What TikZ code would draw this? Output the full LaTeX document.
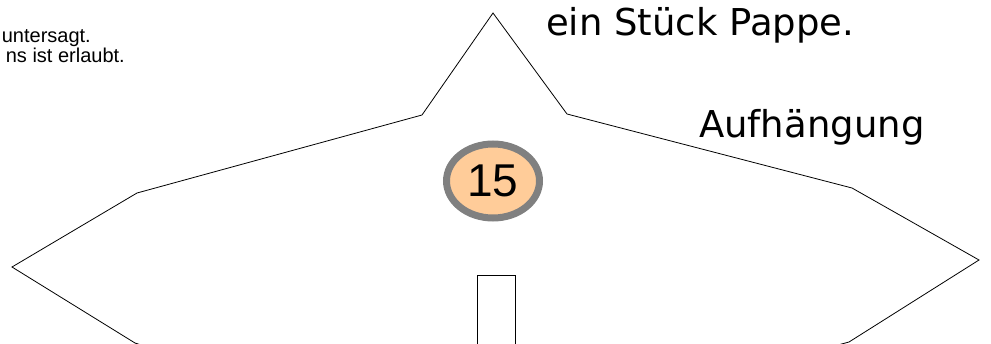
\documentclass[tikz,border=0pt]{standalone}
\usepackage{fontspec}
\setmainfont{Liberation Sans}
\newfontfamily\handfont{DejaVu Sans}
\usetikzlibrary{shapes.geometric}
\definecolor{peach}{HTML}{FFCC99}
\definecolor{rimgray}{HTML}{808080}

\begin{document}
\begin{tikzpicture}[x=1pt, y=-1pt,
	handtext/.style={anchor=base west, inner sep=0pt,
		font=\handfont\fontsize{37}{42}\selectfont},
	notetext/.style={anchor=base east, inner sep=0pt,
		font=\fontsize{20}{24}\selectfont}]
		
		% Frame
		\useasboundingbox (0,0) rectangle (991,343);
		\clip (0,0) rectangle (991,343);
		
		% Star
		\draw[line width=0.8pt]
		(180,358) -- (135,343) -- (12,267) -- (137,193) -- (422,115)
		-- (493,13) -- (567,114) -- (852,188) -- (979,260)
		-- (849,342) -- (790,358);
		
		% Slot
		\draw[line width=0.9pt] (477,360) -- (477,275) -- (515,275) -- (515,360);
		
		% Number
		\node [draw=rimgray,
		fill=peach,
		ellipse,
		line width=7pt,
		minimum width=93pt,
		minimum height=74pt,
		inner sep=0pt,
		font=\fontsize{46}{46}\selectfont] (num) at (493,181){15};
		
		% Labels
		\node[handtext] (pappe) at (546,35) {ein Stück Pappe.};
		
		\node[handtext] (hook) at (699,137) {Aufhängung};
		
		\node[notetext] (note1) at (91,42) {untersagt.};
		
		\node[notetext] (note2) at (125,62) {ns ist erlaubt.};
		
	\end{tikzpicture}
\end{document}
